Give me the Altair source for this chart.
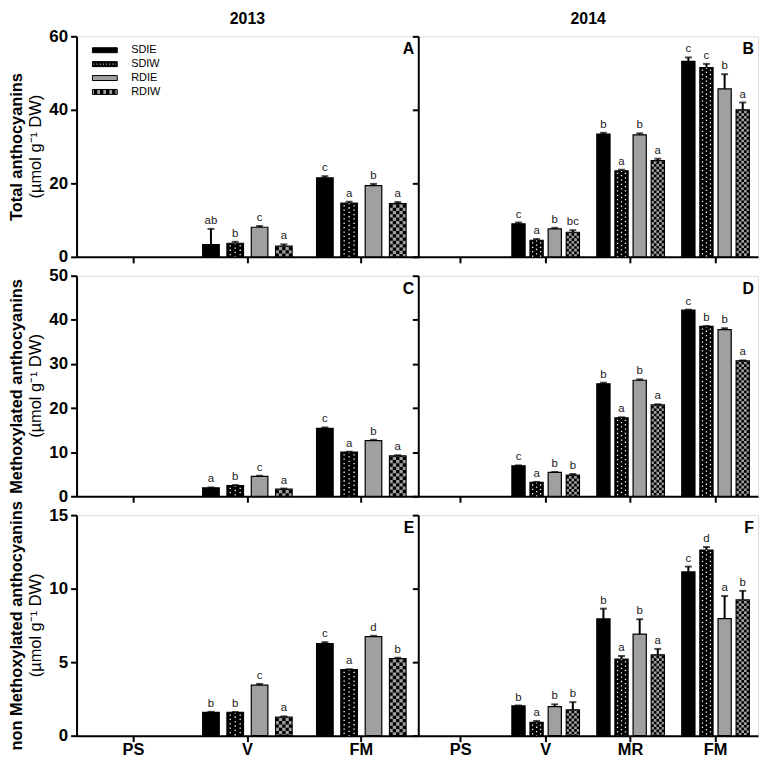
import altair as alt
import pandas as pd

series = ["SDIE", "SDIW", "RDIE", "RDIW"]
stages_2013 = ["PS", "V", "FM"]
stages_2014 = ["PS", "V", "MR", "FM"]

# Panel A: Total anthocyanins, 2013
A_mean = {"V": [3.3, 3.7, 8.05, 2.9], "FM": [21.5, 14.6, 19.4, 14.5]}
A_err = {"V": [4.3, 0.4, 0.35, 0.5], "FM": [0.45, 0.4, 0.45, 0.4]}
A_let = {"V": ["ab", "b", "c", "a"], "FM": ["c", "a", "b", "a"]}

# Panel B: Total anthocyanins, 2014
B_mean = {"V": [9.0, 4.5, 7.6, 6.7], "MR": [33.4, 23.4, 33.2, 26.2], "FM": [53.2, 51.5, 45.7, 40.0]}
B_err = {"V": [0.35, 0.35, 0.3, 0.55], "MR": [0.35, 0.3, 0.4, 0.5], "FM": [1.05, 1.0, 4.0, 2.0]}
B_let = {"V": ["c", "a", "b", "bc"], "MR": ["b", "a", "b", "a"], "FM": ["c", "c", "b", "a"]}

# Panel C: Methoxylated anthocyanins, 2013
C_mean = {"V": [1.9, 2.4, 4.5, 1.6], "FM": [15.4, 10.0, 12.6, 9.15]}
C_err = {"V": [0.1, 0.15, 0.15, 0.15], "FM": [0.2, 0.1, 0.2, 0.15]}
C_let = {"V": ["a", "b", "c", "a"], "FM": ["c", "a", "b", "a"]}

# Panel D: Methoxylated anthocyanins, 2014
D_mean = {"V": [6.9, 3.15, 5.4, 4.8], "MR": [25.5, 17.8, 26.3, 20.7], "FM": [42.2, 38.5, 37.8, 30.7]}
D_err = {"V": [0.1, 0.1, 0.1, 0.25], "MR": [0.25, 0.1, 0.2, 0.15], "FM": [0.1, 0.1, 0.3, 0.1]}
D_let = {"V": ["c", "a", "b", "b"], "MR": ["b", "a", "b", "a"], "FM": ["c", "b", "b", "a"]}

# Panel E: non Methoxylated anthocyanins, 2013
E_mean = {"V": [1.58, 1.58, 3.44, 1.27], "FM": [6.26, 4.49, 6.74, 5.25]}
E_err = {"V": [0.04, 0.03, 0.08, 0.04], "FM": [0.1, 0.03, 0.05, 0.05]}
E_let = {"V": ["b", "b", "c", "a"], "FM": ["c", "a", "d", "b"]}

# Panel F: non Methoxylated anthocyanins, 2014
F_mean = {"V": [2.03, 0.9, 1.97, 1.76], "MR": [7.94, 5.2, 6.9, 5.5], "FM": [11.14, 12.63, 7.96, 9.23]}
F_err = {"V": [0.02, 0.1, 0.16, 0.52], "MR": [0.7, 0.22, 1.02, 0.4], "FM": [0.36, 0.2, 1.54, 0.62]}
F_let = {"V": ["b", "a", "b", "b"], "MR": ["b", "a", "b", "a"], "FM": ["c", "d", "a", "b"]}

FONT = "Liberation Sans"
NARROW = "Liberation Sans Narrow, Liberation Sans"
GRAY = "#a0a0a0"
CENTERS = [0.18, 0.393, 0.607, 0.82]   # bar centres as fractions of a stage band
H = 222
UNIT = "(\u00b5mol g\u207b\u00b9 DW)"


def panel(stages, mean, err, lets, ymax, ystep, letter, width,
          left=False, bottom=False, ytitle=None, coltitle=None, legend=False):
    rows = []
    for st in mean:
        for i, s in enumerate(series):
            rows.append(dict(stage=st, series=s, val=mean[st][i],
                             top=mean[st][i] + err[st][i], let=lets[st][i],
                             off=CENTERS[i]))
    df = pd.DataFrame(rows)
    step = width / len(stages)
    bw = 16.7 if len(stages) == 3 else 13.3

    xenc = alt.X("stage:N",
                 scale=alt.Scale(domain=stages, paddingInner=0, paddingOuter=0),
                 axis=alt.Axis(labels=bottom, tickSize=6, tickWidth=2, tickColor="black",
                               domainWidth=2, domainColor="black", labelFontSize=16.5,
                               labelFontWeight="bold", labelColor="black", labelFont=FONT,
                               labelPadding=0, labelAngle=0),
                 title=None)
    oscale = alt.Scale(domain=[0, 1], range=[0, step], nice=False, zero=False)
    ticks = list(range(0, ymax + 1, ystep))
    yscale = alt.Scale(domain=[0, ymax], nice=False)
    yaxis = alt.Axis(values=ticks, labels=left, tickSize=6, tickWidth=2, tickColor="black",
                     domainWidth=2, domainColor="black", grid=False,
                     labelFontSize=17, labelFontWeight="bold", labelColor="black",
                     labelFont=FONT, labelPadding=3,
                     titleFontSize=16.5, titleFontWeight="bold", titleColor="black",
                     titleFont=FONT, titlePadding=24)
    base = alt.Chart(df)

    bars = base.mark_bar(width=bw, stroke="black", strokeWidth=1.2).encode(
        x=xenc,
        xOffset=alt.XOffset("off:Q", scale=oscale),
        y=alt.Y("val:Q", scale=yscale, axis=yaxis, title=ytitle if left else None),
        fill=alt.Fill("series:N", scale=alt.Scale(domain=series,
                                                  range=["black", "black", GRAY, GRAY]),
                      legend=None),
    )
    layers = [bars]

    # white dots on SDIW
    dcol = bw * 0.3
    for k, ph in [(-1, 0), (0, 2.2), (1, 0)]:
        layers.append(
            base.transform_filter(alt.datum.series == "SDIW")
            .transform_calculate(o2=f"datum.off + {k * dcol / step}")
            .mark_rule(stroke="white", strokeWidth=1.3, strokeDash=[1.3, 3.1],
                       strokeDashOffset=-2 + ph)
            .encode(x="stage:N", xOffset=alt.XOffset("o2:Q", scale=oscale),
                    y=alt.Y("val:Q", scale=yscale), y2=alt.datum(0))
        )
    # checker on RDIW
    s = bw / 5.0
    for j in range(5):
        layers.append(
            base.transform_filter(alt.datum.series == "RDIW")
            .transform_calculate(o2=f"datum.off + {(j - 2) * s / step}")
            .mark_rule(stroke="black", strokeWidth=s, strokeDash=[s, s],
                       strokeDashOffset=(j % 2) * s - 0.8)
            .encode(x="stage:N", xOffset=alt.XOffset("o2:Q", scale=oscale),
                    y=alt.Y("val:Q", scale=yscale), y2=alt.datum(0))
        )
    # error bars (upper half)
    layers.append(
        base.mark_rule(stroke="black", strokeWidth=2).encode(
            x="stage:N", xOffset=alt.XOffset("off:Q", scale=oscale),
            y=alt.Y("val:Q", scale=yscale), y2="top:Q")
    )
    layers.append(
        base.mark_tick(color="black", size=7, thickness=2, orient="horizontal").encode(
            x="stage:N", xOffset=alt.XOffset("off:Q", scale=oscale),
            y=alt.Y("top:Q", scale=yscale))
    )
    # significance letters
    layers.append(
        base.mark_text(baseline="bottom", dy=-3, fontSize=11.5, font=FONT, color="#1a1a1a").encode(
            x="stage:N", xOffset=alt.XOffset("off:Q", scale=oscale),
            y=alt.Y("top:Q", scale=yscale), text="let:N")
    )
    # panel letter
    layers.append(
        alt.Chart(pd.DataFrame({"t": [letter]})).mark_text(
            align="right", baseline="top", fontSize=16, fontWeight="bold", font=FONT, color="black"
        ).encode(x=alt.value(width - 4), y=alt.value(5), text="t:N")
    )
    # second (unit) line of the y title
    if left:
        layers.append(
            alt.Chart(pd.DataFrame({"t": [UNIT]})).mark_text(
                align="center", baseline="middle", angle=270, fontSize=16.5, font=FONT,
                color="black"
            ).encode(x=alt.value(-41), y=alt.value(H / 2), text="t:N")
        )
    # column (year) title
    if coltitle:
        layers.append(
            alt.Chart(pd.DataFrame({"t": [coltitle]})).mark_text(
                align="center", baseline="middle", fontSize=16, fontWeight="bold", font=FONT,
                color="black"
            ).encode(x=alt.value(width / 2), y=alt.value(-17), text="t:N")
        )
    main = alt.layer(*layers)

    if legend:
        ldf = pd.DataFrame({"series": series})
        ly = alt.Y("series:N", scale=alt.Scale(type="point", domain=series, range=[14, 56], padding=0),
                   axis=None)
        lbase = alt.Chart(ldf)
        sw = lbase.mark_bar(height=5, stroke="black", strokeWidth=1).encode(
            x=alt.value(16), x2=alt.value(41), y=ly,
            fill=alt.Fill("series:N", scale=alt.Scale(domain=series,
                                                      range=["black", "black", GRAY, GRAY]),
                          legend=None))
        ldots = lbase.transform_filter(alt.datum.series == "SDIW").mark_rule(
            stroke="white", strokeWidth=1, strokeDash=[1, 2.2]).encode(
            x=alt.value(17), x2=alt.value(40), y=ly)
        lcheck = lbase.transform_filter(alt.datum.series == "RDIW").mark_rule(
            stroke="black", strokeWidth=4, strokeDash=[3.3, 2.8], strokeDashOffset=-1).encode(
            x=alt.value(16.5), x2=alt.value(40.5), y=ly)
        ltext = lbase.mark_text(align="left", baseline="middle", fontSize=11, font=NARROW,
                                color="black").encode(x=alt.value(55), y=ly, text="series:N")
        leg = alt.layer(sw, ldots, lcheck, ltext)
        main = alt.layer(main, leg).resolve_scale(y="independent", fill="independent")

    return main.properties(width=width, height=H)


WL, WR = 344, 342

pA = panel(stages_2013, A_mean, A_err, A_let, 60, 20, "A", WL, left=True,
           ytitle="Total anthocyanins", coltitle="2013", legend=True)
pB = panel(stages_2014, B_mean, B_err, B_let, 60, 20, "B", WR, coltitle="2014")
pC = panel(stages_2013, C_mean, C_err, C_let, 50, 10, "C", WL, left=True,
           ytitle="Methoxylated anthocyanins")
pD = panel(stages_2014, D_mean, D_err, D_let, 50, 10, "D", WR)
pE = panel(stages_2013, E_mean, E_err, E_let, 15, 5, "E", WL, left=True, bottom=True,
           ytitle="non Methoxylated anthocyanins")
pF = panel(stages_2014, F_mean, F_err, F_let, 15, 5, "F", WR, bottom=True)

chart = alt.concat(pA, pB, pC, pD, pE, pF, columns=2,
                   spacing={"row": 19, "column": 0}).resolve_scale(
    xOffset="independent"
).properties(
    bounds="flush", align="each", padding={"left": 0, "top": 0, "right": 0, "bottom": 0}
).configure_view(stroke="black", strokeWidth=2).configure(font=FONT)

chart.save("out.html", embed_options={"renderer": "svg", "actions": False})
